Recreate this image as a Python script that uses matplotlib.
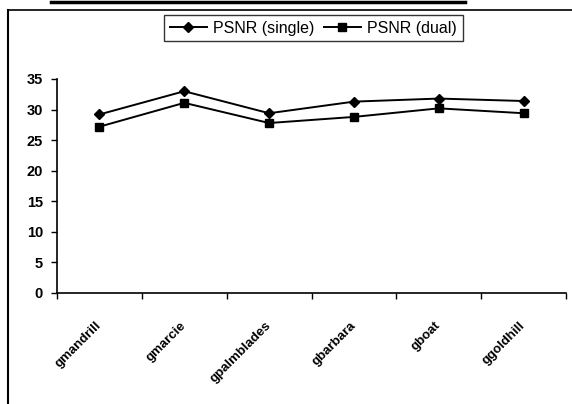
import matplotlib.pyplot as plt
from matplotlib.lines import Line2D
import numpy as np

images = ['gmandrill', 'gmarcie', 'gpalmblades', 'gbarbara', 'gboat', 'ggoldhill']
psnr_single = [29.2, 33.0, 29.4, 31.3, 31.8, 31.4]
psnr_dual = [27.2, 31.1, 27.8, 28.8, 30.2, 29.4]
yticks = [0, 5, 10, 15, 20, 25, 30, 35]

plt.rcParams['font.family'] = ['Liberation Sans', 'DejaVu Sans']

W, H = 572, 404
fig = plt.figure(figsize=(W / 100, H / 100), dpi=100)
ax = fig.add_axes([57 / W, 1 - 293 / H, (566 - 57) / W, (293 - 79) / H])

x = np.arange(len(images))
ax.plot(x, psnr_single, color='black', lw=1.4, marker='D', ms=5.5, label='PSNR (single)')
ax.plot(x, psnr_dual, color='black', lw=1.4, marker='s', ms=5.5, label='PSNR (dual)')

ax.set_xlim(-0.5, len(images) - 0.5)
ax.set_ylim(0, 35)
ax.set_yticks(yticks)
ax.set_yticklabels([str(v) for v in yticks], fontsize=10.5, fontweight='bold')
ax.set_xticks(x)
ax.set_xticklabels(images, fontsize=9.5, fontweight='bold', rotation=45,
                   ha='right', va='center', rotation_mode='anchor')
ax.set_xticks(np.arange(-0.5, len(images)), minor=True)
ax.tick_params(axis='x', which='major', length=0, pad=22)
ax.tick_params(axis='x', which='minor', length=4, width=1, direction='out')
ax.tick_params(axis='y', length=4, width=1, direction='out', pad=6)

for s in ['top', 'right']:
    ax.spines[s].set_visible(False)
for s in ['left', 'bottom']:
    ax.spines[s].set_linewidth(1.2)

leg = fig.legend(loc='center', bbox_to_anchor=((155 + 472) / 2 / W, 1 - 28 / H),
                 ncol=2, frameon=True, fancybox=False, fontsize=11.5,
                 handlelength=2.3, columnspacing=0.6, handletextpad=0.4,
                 borderpad=0.35)
leg.get_frame().set_edgecolor('black')
leg.get_frame().set_linewidth(1.0)

# outer frame of the scanned chart
fig.add_artist(Line2D([8 / W, 8 / W], [1 - 10 / H, 0], transform=fig.transFigure,
                      color='black', lw=1.5))
fig.add_artist(Line2D([8 / W, 1], [1 - 10 / H, 1 - 10 / H], transform=fig.transFigure,
                      color='black', lw=1.2))
fig.add_artist(Line2D([51 / W, 465 / W], [1 - 1.5 / H, 1 - 1.5 / H], transform=fig.transFigure,
                      color='black', lw=2.5))

fig.savefig('out.png', dpi=100)
